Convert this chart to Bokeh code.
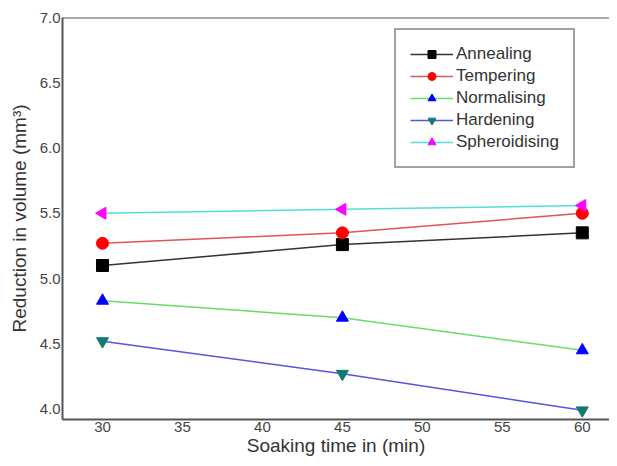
import math
from bokeh.plotting import figure
from bokeh.models import (Range1d, FixedTicker, NumeralTickFormatter, Legend,
                          LegendItem, Span)
from bokeh.embed import file_html
from bokeh.resources import INLINE

soak_time = [30, 45, 60]
annealing = [5.10, 5.26, 5.35]
tempering = [5.27, 5.35, 5.50]
normalising = [4.83, 4.70, 4.45]
hardening = [4.52, 4.27, 3.99]
spheroidising = [5.50, 5.53, 5.56]

x_ticks = [30, 35, 40, 45, 50, 55, 60]
y_ticks = [4.0, 4.5, 5.0, 5.5, 6.0, 6.5, 7.0]

p = figure(width=609, height=458, output_backend="svg", toolbar_location=None,
           x_range=Range1d(27.5, 61.7), y_range=Range1d(3.92, 7.0),
           min_border_left=62, min_border_right=0, min_border_top=17,
           min_border_bottom=38)
p.outline_line_color = None
p.xgrid.visible = False
p.ygrid.visible = False
p.background_fill_color = "white"

font = "Liberation Sans"
for ax in (p.xaxis[0], p.yaxis[0]):
    ax.axis_line_color = "#555555"
    ax.axis_line_width = 2
    ax.major_tick_out = 0
    ax.major_tick_in = 0
    ax.minor_tick_out = 0
    ax.minor_tick_in = 0
    ax.major_label_text_font = font
    ax.major_label_text_font_size = "15px"
    ax.major_label_text_color = "#444444"
    ax.axis_label_text_font = font
    ax.axis_label_text_font_size = "19px"
    ax.axis_label_text_font_style = "normal"
    ax.axis_label_text_color = "#333333"

p.xaxis.ticker = FixedTicker(ticks=x_ticks)
p.yaxis.ticker = FixedTicker(ticks=y_ticks)
p.yaxis.formatter = NumeralTickFormatter(format="0.0")
p.xaxis.major_label_standoff = 2
p.yaxis.major_label_standoff = 2
p.xaxis.axis_label = "Soaking time in (min)"
p.yaxis.axis_label = "Reduction in volume (mm\u00b3)"
p.xaxis.axis_label_standoff = 0
p.yaxis.axis_label_standoff = 7

p.add_layout(Span(location=7.0, dimension="width", line_color="#555555",
                  line_width=2))

series = [
    ("Annealing", annealing, "#333333", "square", "black", "black", 0),
    ("Tempering", tempering, "#e05555", "circle", "red", "red", 0),
    ("Normalising", normalising, "#66dd66", "triangle", "blue", "blue", 0),
    ("Hardening", hardening, "#5555dd", "inverted_triangle", "#137a70", "#137a70", 0),
    ("Spheroidising", spheroidising, "#55dddd", "triangle", "magenta", "magenta", math.pi / 2),
]

items = []
for name, ys, lc, marker, fc, mc, ang in series:
    l = p.line(soak_time, ys, line_color=lc, line_width=1.5)
    s = p.scatter(soak_time, ys, marker=marker, size=12, fill_color=fc,
                  line_color=mc, angle=ang)
    items.append(LegendItem(label=name, renderers=[l, s]))

legend = Legend(items=items, location=(332, 251))
legend.label_text_font = font
legend.label_text_font_size = "17px"
legend.label_text_color = "#333333"
legend.glyph_width = 43
legend.glyph_height = 20
legend.spacing = 2
legend.padding = 14
legend.margin = 0
legend.label_standoff = 3
legend.border_line_color = "#444444"
legend.border_line_width = 2
legend.background_fill_alpha = 1.0
p.add_layout(legend, "center")

open("out.html", "w").write(file_html(p, INLINE))
